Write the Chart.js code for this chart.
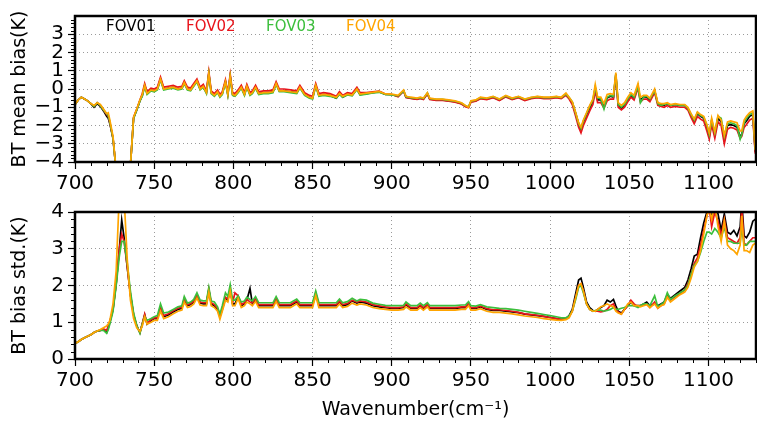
<!DOCTYPE html>
<html>
<head>
<meta charset="utf-8">
<script src="https://cdn.jsdelivr.net/npm/chart.js@4.4.0/dist/chart.umd.min.js"></script>
<style>
  html, body { margin: 0; padding: 0; background: #fff; }
  #wrap { position: relative; width: 757px; height: 422px; overflow: hidden; }
  #meanChart { position: absolute; left: 0; top: 0; }
  #stdChart { position: absolute; left: 0; top: 196px; }
</style>
</head>
<body>
<div id="wrap">
  <canvas id="meanChart" width="757" height="196"></canvas>
  <canvas id="stdChart" width="757" height="226"></canvas>
</div>
<script>
// wavenumber grid (cm-1), shared by both panels
const WAVENUMBER = [
  700, 702, 704, 706, 708, 710, 712, 714, 716, 718,
  720, 721, 722, 724, 726, 728, 729.5, 731, 733, 735,
  737, 739, 741, 742.5, 744, 745.5, 748, 750, 752, 754,
  756, 759, 762, 765, 767.5, 769, 771, 773, 775, 777,
  779, 781, 783, 784.5, 786, 788, 790, 791.5, 793, 795,
  796.5, 798, 799.5, 801, 803, 805, 807, 808.5, 810.5, 812,
  814, 816, 819, 822, 825, 827, 829, 832, 836, 840,
  842, 845, 848, 850, 852, 854, 857, 861, 865, 867,
  869, 872, 875, 878, 880, 884, 888, 892, 896, 900,
  904, 907.5, 909, 912, 916, 918, 920, 922.5, 924, 928,
  932, 936, 940, 944, 946.5, 948.5, 950, 953, 956, 960,
  964, 968, 972, 976, 980, 984, 988, 992, 996, 1000,
  1004, 1007, 1010, 1012, 1014, 1016, 1018, 1019.5, 1021, 1023,
  1025, 1027, 1028.5, 1030, 1032, 1034, 1036, 1038, 1040, 1041.5,
  1043, 1045, 1047, 1049, 1051, 1053, 1055.5, 1057, 1059, 1061,
  1063, 1066, 1068, 1070, 1072, 1074, 1076, 1079, 1082, 1085,
  1087, 1089, 1091, 1093, 1095, 1097, 1099, 1100.5, 1102, 1104,
  1106, 1108, 1110, 1112, 1114, 1116, 1118, 1120, 1121, 1122.5,
  1124, 1126, 1128, 1129.5, 1131
];

// BT mean bias (K)
const MEAN_FOV01 = [
  -0.85, -0.6, -0.45, -0.55, -0.65, -0.8, -1.0, -0.8, -0.95, -1.2,
  -1.5, -1.6, -1.9, -2.7, -4.5, -6, -6.5, -6, -5, -4.2,
  -1.6, -1.15, -0.65, -0.35, 0.2, -0.25, -0.05, -0.1, 0.0, 0.55,
  0.0, 0.05, 0.1, 0.0, 0.05, 0.35, 0.0, -0.05, 0.2, 0.45,
  0.0, 0.15, -0.2, 0.85, -0.2, -0.35, -0.15, -0.4, -0.25, 0.4,
  -0.3, 0.7, -0.3, -0.35, -0.15, 0.1, -0.3, 0.15, -0.3, -0.2,
  0.1, -0.25, -0.2, -0.2, -0.15, 0.3, -0.1, -0.1, -0.15, -0.2,
  0.1, -0.3, -0.45, -0.5, 0.2, -0.35, -0.3, -0.35, -0.5, -0.25,
  -0.45, -0.3, -0.35, 0.0, -0.3, -0.25, -0.2, -0.15, -0.3, -0.3,
  -0.4, -0.1, -0.45, -0.5, -0.55, -0.5, -0.55, -0.25, -0.55, -0.6,
  -0.6, -0.65, -0.7, -0.8, -0.95, -1.0, -0.7, -0.65, -0.5, -0.55,
  -0.45, -0.6, -0.4, -0.55, -0.45, -0.6, -0.5, -0.45, -0.5, -0.5,
  -0.45, -0.5, -0.3, -0.5, -0.75, -1.3, -1.9, -2.2, -1.8, -1.4,
  -1.05, -0.7, 0.05, -0.6, -0.6, -0.95, -0.5, -0.4, -0.45, 0.8,
  -0.9, -1.05, -0.9, -0.6, -0.35, -0.5, 0.15, -0.6, -0.45, -0.45,
  -0.6, -0.1, -0.8, -0.85, -0.9, -0.8, -0.9, -0.85, -0.9, -0.9,
  -1.05, -1.4, -1.75, -1.35, -1.5, -1.6, -2.1, -2.6, -1.75, -2.5,
  -1.6, -1.8, -2.8, -2.0, -1.95, -2.0, -2.1, -2.6, -2.5, -1.9,
  -1.75, -1.5, -1.4, -3.4, -3.6
];
const MEAN_FOV02 = [
  -0.85, -0.6, -0.45, -0.55, -0.65, -0.8, -0.95, -0.75, -0.9, -1.15,
  -1.4, -1.5, -1.85, -2.7, -4.5, -6, -6.5, -6, -5, -4.2,
  -1.55, -1.1, -0.6, -0.25, 0.3, -0.15, 0.05, 0.0, 0.1, 0.65,
  0.1, 0.15, 0.2, 0.1, 0.15, 0.45, 0.1, 0.05, 0.3, 0.55,
  0.1, 0.25, -0.1, 0.95, -0.1, -0.25, -0.05, -0.3, -0.15, 0.5,
  -0.2, 0.8, -0.2, -0.25, -0.05, 0.2, -0.2, 0.25, -0.2, -0.1,
  0.2, -0.15, -0.1, -0.1, -0.05, 0.4, 0.0, 0.0, -0.05, -0.1,
  0.2, -0.2, -0.35, -0.4, 0.3, -0.25, -0.2, -0.25, -0.4, -0.15,
  -0.35, -0.2, -0.25, 0.1, -0.2, -0.2, -0.15, -0.12, -0.28, -0.3,
  -0.42, -0.12, -0.47, -0.52, -0.57, -0.52, -0.57, -0.27, -0.57, -0.62,
  -0.62, -0.67, -0.72, -0.82, -0.97, -1.02, -0.72, -0.67, -0.53, -0.58,
  -0.48, -0.63, -0.43, -0.58, -0.48, -0.63, -0.53, -0.48, -0.53, -0.53,
  -0.48, -0.53, -0.35, -0.55, -0.85, -1.45, -2.1, -2.4, -2.0, -1.6,
  -1.2, -0.85, -0.1, -0.75, -0.75, -1.05, -0.65, -0.55, -0.55, 0.7,
  -1.0, -1.15, -1.0, -0.7, -0.45, -0.6, 0.05, -0.7, -0.55, -0.55,
  -0.7, -0.2, -0.9, -0.95, -1.0, -0.9, -1.0, -0.95, -1.0, -1.0,
  -1.15, -1.55, -1.9, -1.5, -1.65, -1.75, -2.3, -2.75, -1.95, -2.7,
  -1.8, -2.0, -3.0, -2.2, -2.1, -2.15, -2.25, -2.7, -2.6, -2.1,
  -1.95, -1.7, -1.6, -3.5, -3.7
];
const MEAN_FOV03 = [
  -0.85, -0.6, -0.45, -0.55, -0.65, -0.8, -0.95, -0.75, -0.9, -1.15,
  -1.35, -1.45, -1.8, -2.7, -4.5, -6, -6.5, -6, -5, -4.2,
  -1.6, -1.15, -0.65, -0.4, 0.15, -0.3, -0.1, -0.15, -0.05, 0.5,
  -0.05, 0.0, 0.05, -0.05, 0.0, 0.3, -0.05, -0.1, 0.15, 0.4,
  -0.05, 0.1, -0.25, 0.8, -0.25, -0.4, -0.2, -0.45, -0.3, 0.35,
  -0.35, 0.65, -0.35, -0.4, -0.2, 0.05, -0.35, 0.1, -0.35, -0.25,
  0.05, -0.3, -0.25, -0.25, -0.2, 0.25, -0.15, -0.15, -0.2, -0.25,
  0.05, -0.35, -0.5, -0.55, 0.15, -0.4, -0.35, -0.4, -0.5, -0.3,
  -0.45, -0.33, -0.38, -0.03, -0.33, -0.28, -0.22, -0.18, -0.3, -0.32,
  -0.38, -0.1, -0.42, -0.47, -0.52, -0.47, -0.52, -0.22, -0.52, -0.57,
  -0.57, -0.62, -0.67, -0.77, -0.92, -0.97, -0.67, -0.62, -0.47, -0.52,
  -0.42, -0.57, -0.38, -0.52, -0.42, -0.57, -0.47, -0.42, -0.47, -0.47,
  -0.42, -0.47, -0.28, -0.47, -0.7, -1.3, -1.9, -2.15, -1.75, -1.35,
  -0.95, -0.6, 0.1, -0.5, -0.55, -1.1, -0.45, -0.35, -0.4, 0.8,
  -0.85, -1.0, -0.85, -0.55, -0.3, -0.45, 0.15, -0.75, -0.45, -0.4,
  -0.55, -0.1, -0.8, -0.9, -0.85, -0.8, -0.9, -0.85, -0.9, -0.9,
  -1.05, -1.4, -1.7, -1.3, -1.45, -1.55, -2.0, -2.5, -1.7, -2.4,
  -1.5, -1.6, -2.6, -1.9, -1.85, -1.9, -2.0, -2.75, -2.5, -1.85,
  -1.6, -1.4, -1.3, -3.3, -3.5
];
const MEAN_FOV04 = [
  -0.85, -0.6, -0.45, -0.55, -0.65, -0.8, -0.9, -0.75, -0.85, -1.1,
  -1.35, -1.3, -1.7, -2.6, -4.5, -6, -6.5, -6, -5, -4.2,
  -1.55, -1.1, -0.6, -0.3, 0.2, -0.25, -0.05, -0.1, 0.0, 0.55,
  0.0, 0.05, 0.1, 0.0, 0.05, 0.35, 0.0, -0.05, 0.2, 0.45,
  0.0, 0.15, -0.2, 0.85, -0.2, -0.35, -0.15, -0.4, -0.25, 0.4,
  -0.3, 0.7, -0.3, -0.35, -0.15, 0.1, -0.3, 0.15, -0.3, -0.2,
  0.1, -0.25, -0.2, -0.2, -0.15, 0.3, -0.1, -0.1, -0.15, -0.2,
  0.1, -0.3, -0.45, -0.5, 0.2, -0.35, -0.3, -0.35, -0.45, -0.25,
  -0.4, -0.28, -0.33, 0.0, -0.28, -0.23, -0.18, -0.13, -0.27, -0.28,
  -0.35, -0.05, -0.4, -0.45, -0.5, -0.45, -0.5, -0.2, -0.5, -0.55,
  -0.55, -0.6, -0.65, -0.75, -0.9, -1.0, -0.65, -0.6, -0.45, -0.5,
  -0.4, -0.55, -0.35, -0.5, -0.4, -0.55, -0.45, -0.4, -0.45, -0.45,
  -0.4, -0.45, -0.22, -0.45, -0.7, -1.25, -1.85, -2.1, -1.7, -1.3,
  -0.9, -0.55, 0.25, -0.45, -0.45, -0.8, -0.3, -0.25, -0.3, 0.9,
  -0.75, -0.9, -0.75, -0.45, -0.2, -0.35, 0.3, -0.45, -0.35, -0.35,
  -0.5, 0.0, -0.75, -0.8, -0.8, -0.75, -0.85, -0.8, -0.85, -0.85,
  -1.0, -1.35, -1.65, -1.25, -1.4, -1.5, -1.95, -2.4, -1.6, -2.35,
  -1.45, -1.7, -2.55, -1.8, -1.75, -1.8, -1.85, -2.3, -2.3, -1.7,
  -1.5, -1.3, -1.2, -3.3, -3.5
];

// BT bias standard deviation (K)
const STD_FOV01 = [
  0.42, 0.47, 0.53, 0.58, 0.62, 0.66, 0.72, 0.76, 0.78, 0.8,
  0.72, 0.85, 1.0, 1.35, 2.05, 3.0, 3.78, 3.3, 2.5, 1.75,
  1.2, 0.9, 0.72, 0.95, 1.2, 0.95, 1.05, 1.1, 1.1, 1.4,
  1.15, 1.2, 1.28, 1.35, 1.38, 1.62, 1.45, 1.48, 1.55, 1.72,
  1.52, 1.5, 1.5, 1.88, 1.5, 1.45, 1.35, 1.15, 1.35, 1.65,
  1.6, 1.9, 1.5, 1.5, 1.7, 1.45, 1.5, 1.6, 1.92, 1.5,
  1.62, 1.45, 1.45, 1.45, 1.45, 1.62, 1.45, 1.45, 1.45, 1.55,
  1.45, 1.45, 1.45, 1.45, 1.78, 1.45, 1.45, 1.45, 1.45, 1.55,
  1.45, 1.48, 1.58, 1.52, 1.55, 1.52, 1.45, 1.42, 1.4, 1.38,
  1.38, 1.4, 1.48, 1.38, 1.38, 1.45, 1.38, 1.47, 1.38, 1.38,
  1.38, 1.38, 1.38, 1.4, 1.4, 1.5, 1.38, 1.38, 1.42, 1.35,
  1.32, 1.32, 1.3, 1.28, 1.26, 1.22, 1.2, 1.18, 1.16, 1.13,
  1.1, 1.08, 1.1, 1.18, 1.35, 1.75, 2.15, 2.2, 1.95, 1.55,
  1.4, 1.32, 1.3, 1.35, 1.4, 1.45, 1.6, 1.55, 1.62, 1.45,
  1.3, 1.25, 1.35, 1.45, 1.55, 1.45, 1.45, 1.45, 1.5, 1.55,
  1.45, 1.5, 1.45, 1.5, 1.55, 1.75, 1.65, 1.75, 1.85, 1.95,
  2.15, 2.45, 2.8, 2.85, 3.3, 3.7, 4.0, 4.3, 3.8, 4.2,
  3.95, 3.5, 3.95, 3.45, 3.4, 3.5, 3.35, 3.6, 4.3, 3.35,
  3.3, 3.45, 3.75, 3.8, 3.8
];
const STD_FOV02 = [
  0.42, 0.47, 0.53, 0.58, 0.62, 0.66, 0.72, 0.76, 0.78, 0.82,
  0.78, 0.9, 1.02, 1.35, 2.05, 3.0, 3.4, 3.2, 2.5, 1.75,
  1.2, 0.9, 0.72, 0.97, 1.22, 0.97, 1.07, 1.12, 1.12, 1.42,
  1.18, 1.23, 1.31, 1.38, 1.41, 1.65, 1.48, 1.51, 1.58, 1.75,
  1.55, 1.53, 1.53, 1.9, 1.53, 1.48, 1.38, 1.18, 1.38, 1.68,
  1.63, 1.9, 1.53, 1.8, 1.72, 1.48, 1.53, 1.63, 1.55, 1.53,
  1.65, 1.48, 1.48, 1.48, 1.48, 1.65, 1.48, 1.48, 1.48, 1.58,
  1.48, 1.48, 1.48, 1.48, 1.8, 1.48, 1.48, 1.48, 1.48, 1.58,
  1.48, 1.51, 1.6, 1.55, 1.58, 1.55, 1.48, 1.45, 1.42, 1.4,
  1.4, 1.42, 1.5, 1.4, 1.4, 1.47, 1.4, 1.49, 1.4, 1.4,
  1.4, 1.4, 1.4, 1.42, 1.42, 1.52, 1.4, 1.4, 1.44, 1.37,
  1.34, 1.34, 1.32, 1.3, 1.27, 1.23, 1.21, 1.19, 1.16, 1.13,
  1.1, 1.08, 1.1, 1.15, 1.3, 1.65, 2.0, 2.05, 1.85, 1.5,
  1.35, 1.3, 1.3, 1.3, 1.28, 1.3, 1.35, 1.45, 1.5, 1.35,
  1.28, 1.22, 1.35, 1.45, 1.6, 1.5, 1.42, 1.45, 1.48, 1.5,
  1.4, 1.55, 1.38, 1.45, 1.5, 1.7, 1.6, 1.7, 1.78, 1.88,
  2.05, 2.3, 2.6, 2.75, 3.1, 3.5, 3.9, 4.1, 3.6, 4.0,
  3.75, 3.35, 3.8, 3.3, 3.25, 3.2, 3.15, 3.3, 4.1, 3.15,
  3.1, 3.2, 3.3, 3.3, 3.3
];
const STD_FOV03 = [
  0.42, 0.47, 0.53, 0.58, 0.62, 0.66, 0.72, 0.76, 0.78, 0.78,
  0.7, 0.8, 0.95, 1.3, 2.0, 2.8, 3.2, 3.2, 2.6, 1.85,
  1.25, 0.92, 0.7, 0.95, 1.15, 1.05, 1.1, 1.15, 1.18, 1.5,
  1.25, 1.28, 1.35, 1.42, 1.45, 1.7, 1.52, 1.55, 1.62, 1.8,
  1.6, 1.58, 1.58, 1.95, 1.58, 1.55, 1.42, 1.22, 1.45, 1.8,
  1.7, 2.02, 1.6, 1.6, 1.72, 1.55, 1.58, 1.68, 1.62, 1.58,
  1.7, 1.53, 1.53, 1.53, 1.53, 1.7, 1.53, 1.53, 1.53, 1.63,
  1.53, 1.53, 1.53, 1.53, 1.85, 1.53, 1.53, 1.53, 1.53, 1.63,
  1.53, 1.56, 1.65, 1.58, 1.62, 1.6, 1.52, 1.49, 1.46, 1.45,
  1.45, 1.46, 1.55, 1.45, 1.45, 1.52, 1.45, 1.53, 1.45, 1.45,
  1.45, 1.45, 1.45, 1.47, 1.47, 1.56, 1.45, 1.44, 1.48, 1.42,
  1.4, 1.38, 1.37, 1.35, 1.33, 1.3, 1.27, 1.24, 1.21, 1.18,
  1.15, 1.12, 1.12, 1.17, 1.3, 1.6, 1.95, 2.0, 1.8, 1.5,
  1.35, 1.3, 1.32, 1.33, 1.33, 1.3, 1.32, 1.35, 1.4, 1.35,
  1.35, 1.38, 1.4, 1.45, 1.45, 1.45, 1.4, 1.45, 1.5, 1.5,
  1.45, 1.72, 1.42, 1.48, 1.55, 1.8, 1.62, 1.72, 1.8, 1.88,
  2.0, 2.3, 2.55, 2.65, 2.9, 3.2, 3.45, 3.45, 3.4, 3.55,
  3.45, 3.3, 3.6, 3.2, 3.2, 3.15, 3.15, 3.15, 3.6, 3.1,
  3.1, 3.2, 3.2, 3.2, 3.2
];
const STD_FOV04 = [
  0.42, 0.47, 0.53, 0.58, 0.62, 0.66, 0.72, 0.76, 0.8, 0.85,
  0.9, 0.95, 1.05, 1.5, 2.4, 4.5, 4.6, 4.4, 2.7, 1.6,
  1.1, 0.85, 0.75, 0.9, 1.15, 0.95, 1.0, 1.05, 1.05, 1.3,
  1.1, 1.15, 1.23, 1.3, 1.33, 1.55, 1.4, 1.43, 1.5, 1.66,
  1.47, 1.45, 1.45, 1.82, 1.45, 1.4, 1.3, 1.08, 1.3, 1.6,
  1.55, 1.85, 1.45, 1.45, 1.65, 1.4, 1.45, 1.55, 1.5, 1.45,
  1.57, 1.4, 1.4, 1.4, 1.4, 1.57, 1.4, 1.4, 1.4, 1.5,
  1.4, 1.4, 1.4, 1.4, 1.72, 1.4, 1.4, 1.4, 1.4, 1.5,
  1.4, 1.43, 1.52, 1.47, 1.5, 1.47, 1.4, 1.37, 1.35, 1.33,
  1.33, 1.35, 1.42, 1.33, 1.33, 1.4, 1.33, 1.42, 1.33, 1.33,
  1.33, 1.33, 1.33, 1.35, 1.35, 1.45, 1.33, 1.33, 1.37, 1.3,
  1.27, 1.27, 1.25, 1.23, 1.2, 1.17, 1.15, 1.13, 1.1, 1.08,
  1.06, 1.05, 1.07, 1.12, 1.3, 1.65, 2.0, 2.05, 1.85, 1.5,
  1.35, 1.3, 1.3, 1.35, 1.42, 1.45, 1.5, 1.45, 1.42, 1.3,
  1.25, 1.22, 1.35, 1.5, 1.55, 1.45, 1.45, 1.42, 1.45, 1.48,
  1.4, 1.5, 1.38, 1.45, 1.48, 1.68, 1.55, 1.65, 1.75, 1.82,
  1.95, 2.2, 2.5, 2.65, 2.95, 3.4, 3.9, 4.1, 3.8, 4.2,
  3.6, 3.2, 3.75, 3.1, 3.0, 2.95, 2.85, 3.1, 3.9, 2.95,
  2.95, 2.9, 3.1, 3.15, 3.15
];

const FOV_NAMES = ['FOV01', 'FOV02', 'FOV03', 'FOV04'];
const FOV_COLORS = ['#000000', '#e8141b', '#3cbf3c', '#ffa500'];
const X_TICKS = [700, 750, 800, 850, 900, 950, 1000, 1050, 1100];
const MEAN_TICKS = [-4, -3, -2, -1, 0, 1, 2, 3];
const STD_TICKS = [0, 1, 2, 3, 4];

const FONT = "'DejaVu Sans', sans-serif";
Chart.defaults.font.family = FONT;
Chart.defaults.color = '#000';

function makeDatasets(seriesList) {
  return seriesList.map((vals, i) => ({
    label: FOV_NAMES[i],
    data: vals.map((v, k) => ({ x: WAVENUMBER[k], y: v })),
    borderColor: FOV_COLORS[i],
    backgroundColor: FOV_COLORS[i],
    borderWidth: 1.7,
    pointRadius: 0,
    tension: 0,
    order: seriesList.length - 1 - i
  }));
}

// black box around the plot area
const frame = {
  id: 'frame',
  afterDraw(chart) {
    const { ctx, chartArea: a } = chart;
    ctx.save();
    ctx.strokeStyle = '#000';
    ctx.lineWidth = 2.5;
    ctx.strokeRect(a.left, a.top, a.right - a.left, a.bottom - a.top);
    ctx.restore();
  }
};

// matplotlib style minor ticks (x every 10, y every 0.2)
const minorTicks = {
  id: 'minorTicks',
  afterDraw(chart) {
    const { ctx, chartArea: a, scales } = chart;
    ctx.save();
    ctx.strokeStyle = '#000';
    ctx.lineWidth = 1;
    ctx.beginPath();
    for (let v = 700; v <= scales.x.max; v += 10) {
      if (v % 50 === 0) continue;
      const px = Math.round(scales.x.getPixelForValue(v)) + 0.5;
      ctx.moveTo(px, a.bottom);
      ctx.lineTo(px, a.bottom + 4);
    }
    const y = scales.y;
    for (let k = Math.round(y.min * 5); k <= Math.round(y.max * 5); k++) {
      if (k % 5 === 0) continue;
      const py = Math.round(y.getPixelForValue(k / 5)) + 0.5;
      ctx.moveTo(a.left - 4, py);
      ctx.lineTo(a.left, py);
    }
    ctx.stroke();
    ctx.restore();
  }
};

// coloured series names inside the top panel
const fovLabels = {
  id: 'fovLabels',
  afterDatasetsDraw(chart, args, opts) {
    if (!opts.show) return;
    const { ctx, chartArea: a } = chart;
    ctx.save();
    ctx.font = '15px ' + FONT;
    ctx.textAlign = 'left';
    ctx.textBaseline = 'middle';
    chart.data.datasets.forEach((ds, i) => {
      ctx.fillStyle = ds.borderColor;
      ctx.fillText(ds.label, a.left + 31 + i * 80, a.top + 11);
    });
    ctx.restore();
  }
};

function buildOptions(yMin, yMax, yTicks, yTitle, padTop, xHeight, xTitle) {
  return {
    responsive: false,
    animation: false,
    devicePixelRatio: 1,
    layout: { padding: { top: padTop, right: 1, left: 0, bottom: 0 } },
    plugins: {
      legend: { display: false },
      tooltip: { enabled: false },
      fovLabels: { show: !xTitle }
    },
    scales: {
      x: {
        type: 'linear',
        min: 700,
        max: 1130,
        afterBuildTicks: s => { s.ticks = X_TICKS.map(v => ({ value: v })); },
        afterFit: s => { s.height = xHeight; },
        ticks: {
          font: { size: 20 },
          padding: 3,
          maxRotation: 0,
          autoSkip: false,
          callback: v => String(v)
        },
        grid: { color: '#9a9a9a', lineWidth: 1, tickLength: 7, tickColor: '#000', tickWidth: 1.2 },
        border: { display: false, dash: [1, 3] },
        title: {
          display: !!xTitle,
          text: xTitle || '',
          font: { size: 19 },
          padding: { top: 0, bottom: 1 }
        }
      },
      y: {
        type: 'linear',
        min: yMin,
        max: yMax,
        afterBuildTicks: s => { s.ticks = yTicks.map(v => ({ value: v })); },
        afterFit: s => { s.width = 75; },
        ticks: {
          font: { size: 20 },
          padding: 4,
          autoSkip: false,
          callback: v => String(v).replace('-', '\u2212')
        },
        grid: { color: '#9a9a9a', lineWidth: 1, tickLength: 7, tickColor: '#000', tickWidth: 1.2 },
        border: { display: false, dash: [1, 3] },
        title: {
          display: true,
          text: yTitle,
          font: { size: 19 },
          padding: { top: 9, bottom: 0 }
        }
      }
    }
  };
}

new Chart(document.getElementById('meanChart'), {
  type: 'line',
  data: { datasets: makeDatasets([MEAN_FOV01, MEAN_FOV02, MEAN_FOV03, MEAN_FOV04]) },
  options: buildOptions(-4, 4, MEAN_TICKS, 'BT mean bias(K)', 9, 34, null),
  plugins: [frame, minorTicks, fovLabels]
});

new Chart(document.getElementById('stdChart'), {
  type: 'line',
  data: { datasets: makeDatasets([STD_FOV01, STD_FOV02, STD_FOV03, STD_FOV04]) },
  options: buildOptions(0, 4, STD_TICKS, 'BT bias std.(K)', 10, 63, 'Wavenumber(cm\u207B\u00B9)'),
  plugins: [frame, minorTicks, fovLabels]
});
</script>
</body>
</html>
